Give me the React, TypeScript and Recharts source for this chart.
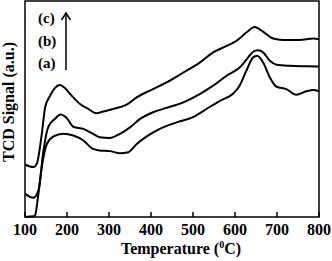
import { LineChart, Line, XAxis, YAxis, ReferenceArea, Customized } from 'recharts';

// temperature (°C) / TCD signal (a.u., arbitrary 0-100 scale)
const curveC = [
  { t: 100, v: 24.3 }, { t: 120, v: 23.1 }, { t: 128, v: 24.6 }, { t: 140, v: 38.5 },
  { t: 148, v: 50.8 }, { t: 160, v: 56.2 }, { t: 171, v: 59.7 }, { t: 183, v: 61.1 },
  { t: 195, v: 59.7 }, { t: 211, v: 56.2 }, { t: 231, v: 52.3 }, { t: 251, v: 50.0 },
  { t: 270, v: 48.0 }, { t: 286, v: 48.8 }, { t: 310, v: 50.0 }, { t: 342, v: 52.0 },
  { t: 366, v: 55.4 }, { t: 397, v: 58.5 }, { t: 437, v: 62.3 }, { t: 477, v: 66.9 },
  { t: 516, v: 71.5 }, { t: 548, v: 76.2 }, { t: 580, v: 79.2 }, { t: 603, v: 81.5 },
  { t: 627, v: 85.4 }, { t: 647, v: 88.0 }, { t: 659, v: 86.9 }, { t: 675, v: 84.6 },
  { t: 691, v: 82.6 }, { t: 714, v: 82.0 }, { t: 754, v: 82.0 }, { t: 786, v: 82.6 },
  { t: 800, v: 82.3 },
];

const curveB = [
  { t: 100, v: 10.8 }, { t: 120, v: 8.9 }, { t: 132, v: 12.3 }, { t: 144, v: 30.8 },
  { t: 155, v: 41.5 }, { t: 171, v: 45.4 }, { t: 185, v: 47.4 }, { t: 199, v: 45.8 },
  { t: 215, v: 41.8 }, { t: 239, v: 40.8 }, { t: 262, v: 38.5 }, { t: 278, v: 36.9 },
  { t: 302, v: 36.6 }, { t: 326, v: 38.5 }, { t: 350, v: 41.5 }, { t: 374, v: 45.4 },
  { t: 405, v: 48.5 }, { t: 437, v: 50.5 }, { t: 477, v: 53.1 }, { t: 516, v: 56.9 },
  { t: 548, v: 60.8 }, { t: 580, v: 65.4 }, { t: 611, v: 69.2 }, { t: 631, v: 73.8 },
  { t: 643, v: 76.5 }, { t: 655, v: 77.2 }, { t: 667, v: 76.2 }, { t: 683, v: 72.3 },
  { t: 699, v: 70.5 }, { t: 730, v: 70.0 }, { t: 770, v: 69.8 }, { t: 800, v: 69.7 },
];

const curveA = [
  { t: 100, v: 0 }, { t: 120, v: 0.3 }, { t: 124, v: 0.8 }, { t: 132, v: 10.8 },
  { t: 140, v: 23.1 }, { t: 152, v: 33.8 }, { t: 167, v: 37.2 }, { t: 191, v: 38.5 },
  { t: 215, v: 37.7 }, { t: 239, v: 35.4 }, { t: 262, v: 31.5 }, { t: 278, v: 30.8 },
  { t: 302, v: 30.5 }, { t: 326, v: 29.5 }, { t: 346, v: 30.0 }, { t: 366, v: 33.8 },
  { t: 389, v: 37.2 }, { t: 421, v: 40.8 }, { t: 461, v: 43.8 }, { t: 500, v: 46.2 },
  { t: 532, v: 50.0 }, { t: 564, v: 53.8 }, { t: 596, v: 57.2 }, { t: 611, v: 60.8 },
  { t: 627, v: 67.7 }, { t: 643, v: 73.8 }, { t: 653, v: 74.6 }, { t: 667, v: 71.5 },
  { t: 683, v: 64.6 }, { t: 699, v: 60.3 }, { t: 722, v: 59.2 }, { t: 746, v: 56.6 },
  { t: 770, v: 58.2 }, { t: 786, v: 58.8 }, { t: 800, v: 58.2 },
];

const xTicks = [100, 150, 200, 250, 300, 350, 400, 450, 500, 550, 600, 650, 700, 750, 800];
const seriesLabels = ['(c)', '(b)', '(a)'];

const font = '"Liberation Serif", "Times New Roman", serif';

function XTick(props: any) {
  const { x, y, payload } = props;
  const major = payload.value % 100 === 0;
  return (
    <g>
      <line x1={x} x2={x} y1={y} y2={y - (major ? 5 : 3)} stroke="#000" strokeWidth={1.5} />
      {major && (
        <text x={x} y={y + 18} textAnchor="middle" fontFamily={font} fontWeight="bold" fontSize={16} fill="#000">
          {payload.value}
        </text>
      )}
    </g>
  );
}

function Annotations() {
  return (
    <g fontFamily={font} fontWeight="bold" fill="#000">
      {seriesLabels.map((s, i) => (
        <text key={s} x={38} y={23 + i * 22.5} fontSize={15}>{s}</text>
      ))}
      <line x1={66} x2={66} y1={70} y2={13} stroke="#000" strokeWidth={1.5} />
      <polyline points="61.5,20 66,13 70.5,20" fill="none" stroke="#000" strokeWidth={1.5} />
      <text x={181} y={254} textAnchor="middle" fontSize={16}>
        Temperature (<tspan dy={-6} fontSize={10}>0</tspan><tspan dy={6}>C)</tspan>
      </text>
      <text x={14} y={102} textAnchor="middle" fontSize={16} transform="rotate(-90 14 102)">
        TCD Signal (a.u.)
      </text>
    </g>
  );
}

export default function App() {
  return (
    <div style={{ position: 'fixed', left: 0, top: 0, background: '#fff' }}>
      <LineChart width={332} height={261} margin={{ top: 1, right: 13, bottom: 0, left: 25 }}>
        <XAxis
          type="number"
          dataKey="t"
          domain={[100, 800]}
          ticks={xTicks}
          height={44}
          axisLine={false}
          tickLine={false}
          tickSize={0}
          tickMargin={0}
          tick={<XTick />}
          allowDuplicatedCategory={false}
        />
        <YAxis type="number" domain={[0, 100]} hide width={0} />
        <ReferenceArea x1={100} x2={800} y1={0} y2={100} fill="none" stroke="#000" strokeWidth={1.5} />
        <Line data={curveA} dataKey="v" type="monotone" stroke="#000" strokeWidth={2} dot={false} isAnimationActive={false} />
        <Line data={curveB} dataKey="v" type="monotone" stroke="#000" strokeWidth={2} dot={false} isAnimationActive={false} />
        <Line data={curveC} dataKey="v" type="monotone" stroke="#000" strokeWidth={2} dot={false} isAnimationActive={false} />
        <Customized component={Annotations} />
      </LineChart>
    </div>
  );
}
